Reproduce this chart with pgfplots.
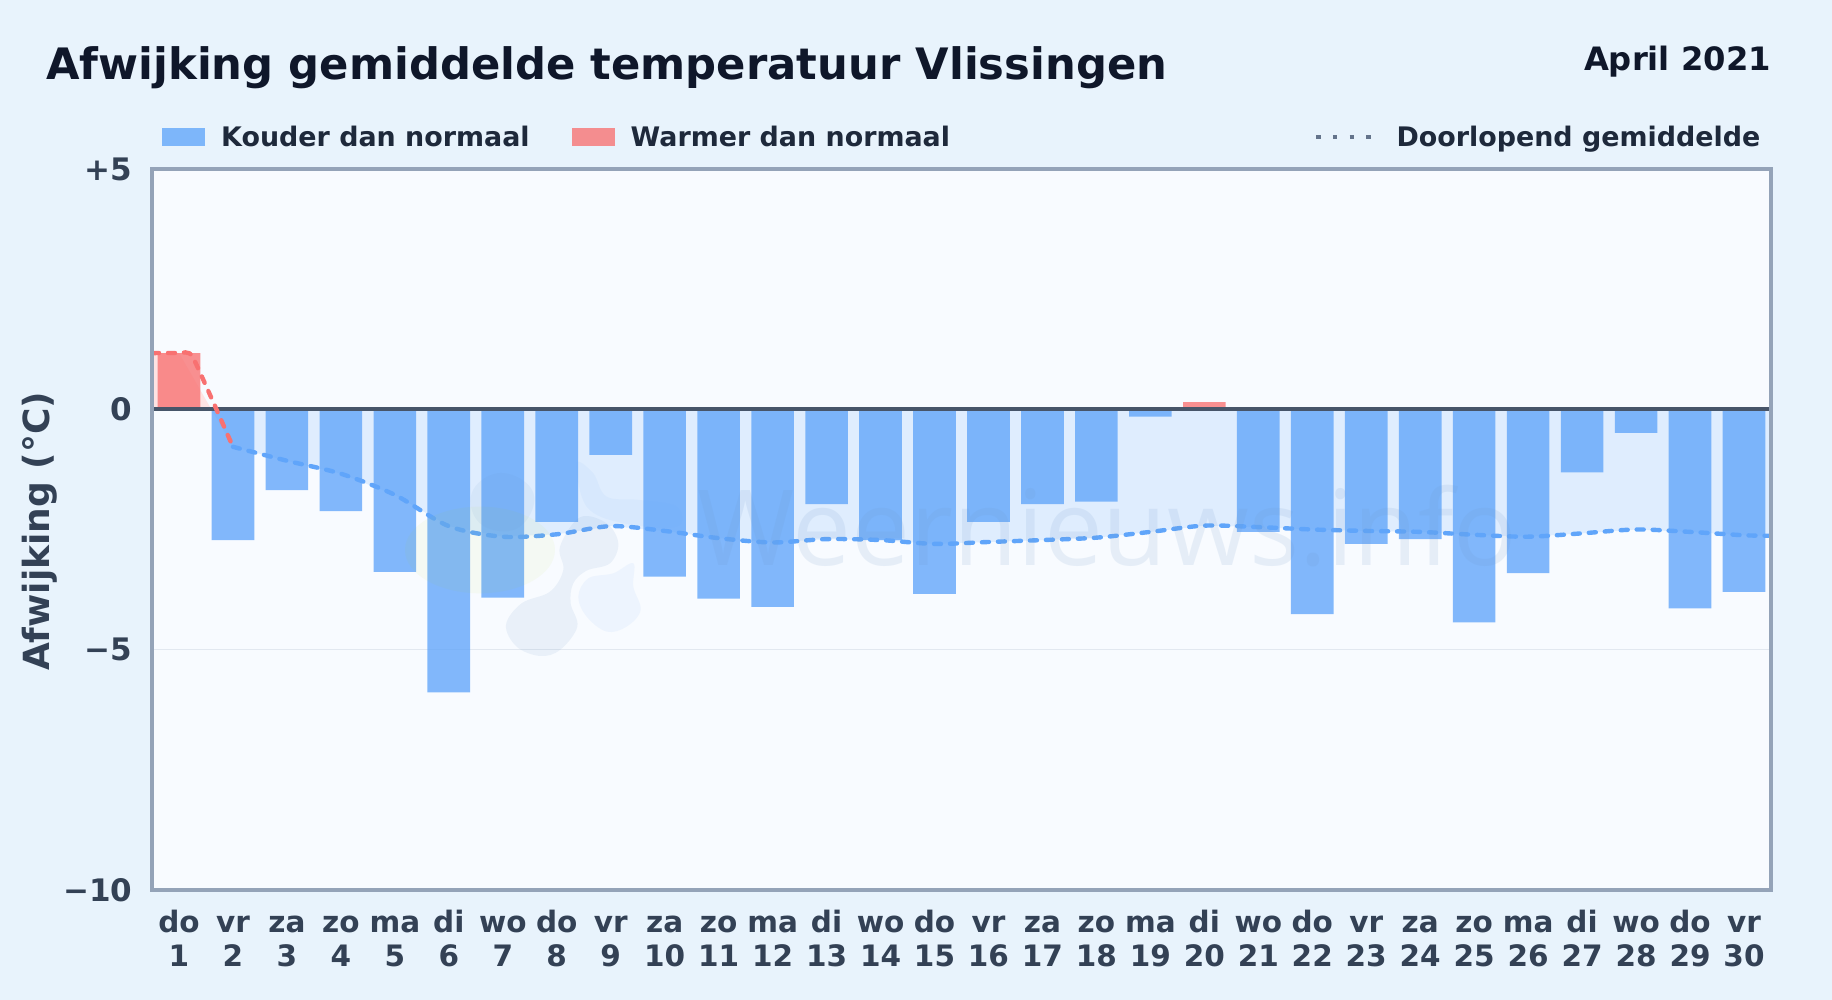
\documentclass[border=0pt]{standalone}
\usepackage{pgfplots}
\usepackage{pgfplotstable}
\usepackage{fontspec}
\setmainfont{DejaVu Sans}
\newfontfamily\wmfont{Open Sans}
\pgfplotsset{compat=1.18}

\definecolor{pagebg}{HTML}{E8F3FC}
\definecolor{plotbg}{HTML}{F8FBFF}
\definecolor{coldbar}{HTML}{60A5FA}
\definecolor{warmbar}{HTML}{F87171}
\definecolor{titlecol}{HTML}{0F172A}
\definecolor{legcol}{HTML}{1E293B}
\definecolor{tickcol}{HTML}{334155}
\definecolor{framecol}{HTML}{94A3B8}
\definecolor{zerocol}{HTML}{475569}
\definecolor{gridcol}{HTML}{E2E8F0}
\definecolor{dotcol}{HTML}{64748B}
\definecolor{wmcol}{HTML}{6C96C8}

% one table per series
\pgfplotstableread{
x y
2 -2.72
3 -1.68
4 -2.12
5 -3.38
6 -5.89
7 -3.92
8 -2.34
9 -0.95
10 -3.48
11 -3.94
12 -4.11
13 -1.97
14 -2.72
15 -3.84
16 -2.34
17 -1.97
18 -1.92
19 -0.15
21 -2.55
22 -4.26
23 -2.80
24 -2.70
25 -4.43
26 -3.41
27 -1.31
28 -0.49
29 -4.14
30 -3.80
}\colddata
\pgfplotstableread{
x y
1 1.17
20 0.15
}\warmdata
\pgfplotstableread{
x y
2 -0.78
3 -1.07
4 -1.34
5 -1.78
6 -2.43
7 -2.65
8 -2.60
9 -2.43
10 -2.53
11 -2.68
12 -2.77
13 -2.70
14 -2.72
15 -2.80
16 -2.76
17 -2.72
18 -2.67
19 -2.55
20 -2.42
21 -2.45
22 -2.50
23 -2.53
24 -2.55
25 -2.61
26 -2.65
27 -2.58
28 -2.50
29 -2.55
30 -2.62
30.5 -2.63
}\meandata

\newcommand{\fs}[1]{\fontsize{#1}{#1}\selectfont\bfseries}
% day label: fixed height first line so all labels line up
\newcommand{\dl}[2]{\rule{0pt}{24pt}#1\\#2}

\begin{document}
\begin{tikzpicture}[x=1pt,y=1pt]
\path[use as bounding box,fill=pagebg] (0,0) rectangle (1832,1000);
\node[anchor=base west,text=titlecol,inner sep=0pt] at (46,920) {\fs{43.3}Afwijking gemiddelde temperatuur Vlissingen};
\node[anchor=base east,text=titlecol,inner sep=0pt] at (1771,929) {\fs{32.2}April 2021};

\begin{axis}[
  at={(152pt,110pt)}, anchor=south west,
  scale only axis, width=1619pt, height=721pt,
  xmin=0.5, xmax=30.5, ymin=-10, ymax=5,
  axis background/.style={fill=plotbg},
  tick style={draw=none},
  xtick={1,...,30},
  ytick={-10,-5,0,5},
  yticklabels={−10,−5,0,+5},
  xticklabel style={font=\fontsize{29.5}{34}\selectfont\bfseries,text=tickcol,align=center,yshift=-15pt},
  yticklabel style={font=\fs{31},text=tickcol,xshift=-16pt},
  xticklabels={\dl{do}{1},\dl{vr}{2},\dl{za}{3},\dl{zo}{4},\dl{ma}{5},\dl{di}{6},\dl{wo}{7},\dl{do}{8},\dl{vr}{9},\dl{za}{10},\dl{zo}{11},\dl{ma}{12},\dl{di}{13},\dl{wo}{14},\dl{do}{15},\dl{vr}{16},\dl{za}{17},\dl{zo}{18},\dl{ma}{19},\dl{di}{20},\dl{wo}{21},\dl{do}{22},\dl{vr}{23},\dl{za}{24},\dl{zo}{25},\dl{ma}{26},\dl{di}{27},\dl{wo}{28},\dl{do}{29},\dl{vr}{30}},
  ylabel={Afwijking (°C)},
  every axis y label/.style={at={(-112pt,358.5pt)},rotate=90,anchor=center,font=\fs{36},text=tickcol},
  clip=true,
  legend style={draw=none,fill=none,at={(0,1)},anchor=south west,xshift=7pt,yshift=17pt,
    font=\fs{26.9},text=legcol,legend columns=2,
    /tikz/column 1/.style={column sep=14pt},
    /tikz/column 2/.style={column sep=40pt},
    /tikz/column 3/.style={column sep=14pt}},
  legend cell align=left,
]
% light band between zero and the running mean
\addplot[draw=none,fill=coldbar!20,forget plot] coordinates {(1.6,0)(2,-0.78)(3,-1.07)(4,-1.34)(5,-1.78)(6,-2.43)(7,-2.65)(8,-2.60)(9,-2.43)(10,-2.53)(11,-2.68)(12,-2.77)(13,-2.70)(14,-2.72)(15,-2.80)(16,-2.76)(17,-2.72)(18,-2.67)(19,-2.55)(20,-2.42)(21,-2.45)(22,-2.50)(23,-2.53)(24,-2.55)(25,-2.61)(26,-2.65)(27,-2.58)(28,-2.50)(29,-2.55)(30,-2.62)(30.5,-2.63)(30.5,0)} -- cycle;
\addplot[draw=none,fill=warmbar!20,forget plot] coordinates {(0.5,0)(0.5,1.17)(1,1.17)(1.6,0)} -- cycle;
\addplot[draw=gridcol,line width=1.4pt,forget plot] coordinates {(0.5,-5)(30.5,-5)};
% bars
\addplot[ybar,bar width=0.79,bar shift=0pt,draw=none,fill=coldbar,fill opacity=0.78,
  legend image code/.code={\path[fill=coldbar,fill opacity=0.78] (0pt,-9pt) rectangle (43pt,9pt);}] table[x=x,y=y] {\colddata};
\addlegendentry{Kouder dan normaal}
\addplot[ybar,bar width=0.79,bar shift=0pt,draw=none,fill=warmbar,fill opacity=0.78,
  legend image code/.code={\path[fill=warmbar,fill opacity=0.78] (0pt,-9pt) rectangle (43pt,9pt);}] table[x=x,y=y] {\warmdata};
\addlegendentry{Warmer dan normaal}
% zero line
\addplot[draw=zerocol,line width=4.2pt,forget plot] coordinates {(0.5,0)(30.5,0)};
% running mean
\addplot[draw=warmbar,line width=4.4pt,line cap=round,dash pattern=on 7pt off 9pt,smooth,tension=0.25,forget plot] coordinates {(0.5,1.17)(1,1.17)(1.25,1.1)(2,-0.78)};
\addplot[draw=coldbar,line width=4.4pt,line cap=round,dash pattern=on 7pt off 9pt,smooth,tension=0.5,forget plot] table[x=x,y=y] {\meandata};
% watermark
\node[font=\wmfont\fontsize{105}{105}\selectfont,text=wmcol,opacity=0.13,anchor=base] at (axis cs:18.2,-3.25) {Weernieuws.info};
\end{axis}

\begin{axis}[
  at={(152pt,110pt)}, anchor=south west,
  scale only axis, width=1619pt, height=721pt,
  xmin=0.5, xmax=30.5, ymin=-10, ymax=5,
  hide axis,
  legend style={draw=none,fill=none,at={(1,1)},anchor=south east,xshift=-5.5pt,yshift=17pt,font=\fs{26.9},text=legcol,
    /tikz/column 1/.style={column sep=21pt}},
]
\addplot[draw=dotcol,line width=3.6pt,
  legend image code/.code={\draw[dotcol,line width=4.5pt,dash pattern=on 4.5pt off 12.2pt] (0pt,0pt) -- (55pt,0pt);}] coordinates {(40,40)(41,41)};
\addlegendentry{Doorlopend gemiddelde}
\end{axis}

% plot frame, same box as the axes
\draw[color=framecol,line width=3.4pt] (152,110) -- (1771,110) -- (1771,831) -- (152,831) -- cycle;

% faint logo, in crop coordinates of the watermark region
\begin{scope}[shift={(380,560)},x=0.3333pt,y=-0.3333pt]
\fill[yellow!70!green,opacity=0.05] (300,330) ellipse [x radius=225,y radius=130];
\fill[wmcol,opacity=0.10] plot[smooth cycle,tension=0.6] coordinates {(378,555)(425,490)(510,455)(550,390)(540,320)(600,232)(680,250)(715,310)(690,370)(620,392)(580,430)(572,490)(592,560)(540,630)(480,648)(410,620)};
\fill[wmcol,opacity=0.08] plot[smooth cycle,tension=0.7] coordinates {(275,160)(350,100)(440,130)(460,200)(400,270)(300,250)};
\fill[coldbar,opacity=0.07] plot[smooth cycle,tension=0.6] coordinates {(595,470)(625,415)(700,400)(760,370)(760,440)(782,510)(740,560)(680,575)(620,530)};
\fill[coldbar,opacity=0.06] plot[smooth cycle,tension=0.6] coordinates {(590,70)(640,100)(680,170)(780,180)(890,200)(890,260)(730,250)(620,200)};
\end{scope}
\end{tikzpicture}
\end{document}
